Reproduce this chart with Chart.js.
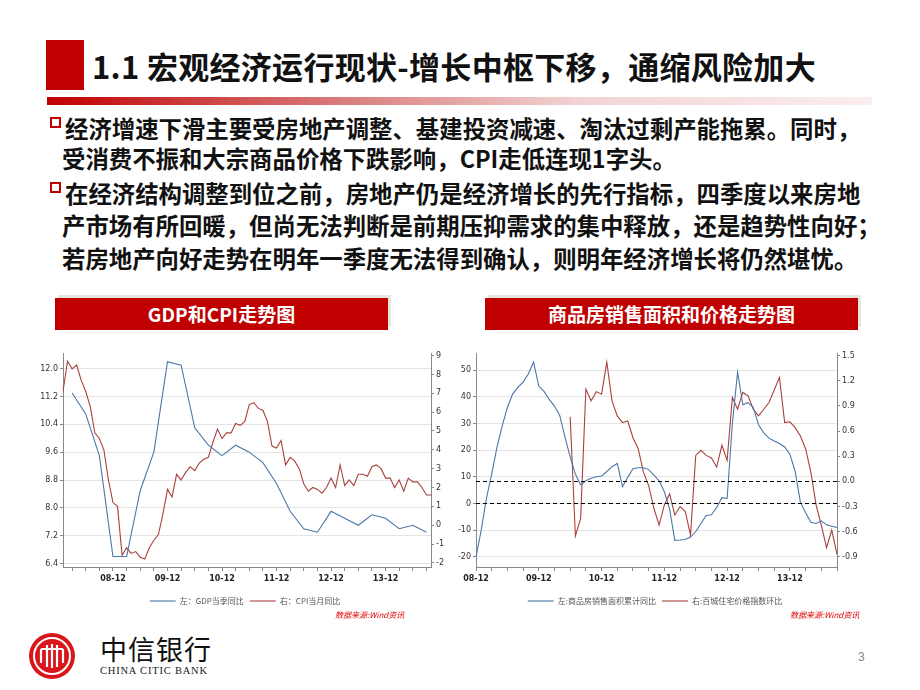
<!DOCTYPE html>
<html>
<head>
<meta charset="utf-8">
<script src="https://cdn.jsdelivr.net/npm/chart.js@4.4.0/dist/chart.umd.min.js"></script>
<style>
body{margin:0;width:920px;height:690px;background:#fff;position:relative;overflow:hidden;font-family:"Noto Sans CJK SC",sans-serif;}
.abs{position:absolute;white-space:nowrap;}
.redblock{left:46px;top:40px;width:38px;height:50px;background:#c00000;}
.title{left:92px;top:45px;font-size:31px;font-weight:bold;color:#111;line-height:42px;letter-spacing:0.3px;}
.bar{left:47px;top:97px;width:825px;height:8px;background:linear-gradient(to right,#c00000 0%,#d97a7a 35%,#f2d4d4 65%,#fbeeee 100%);}
.txt{font-size:23.4px;font-weight:bold;color:#111;line-height:28px;}
.sq{width:7px;height:7px;border:2.5px solid #c00000;background:#fff;}
.box{height:32px;background:#c00000;color:#fff;font-size:19px;font-weight:bold;text-align:center;line-height:32px;box-shadow:3px -3px 0 #e9e6e0;}
.src{font-size:8px;color:#e00000;font-style:italic;}
</style>
</head>
<body>
<div class="abs redblock"></div>
<div class="abs title">1.1 宏观经济运行现状-增长中枢下移，通缩风险加大</div>
<div class="abs bar"></div>

<div class="abs sq" style="left:50px;top:117px;"></div>
<div class="abs txt" style="left:65px;top:114px;">经济增速下滑主要受房地产调整、基建投资减速、淘汰过剩产能拖累。同时，</div>
<div class="abs txt" style="left:62px;top:144px;">受消费不振和大宗商品价格下跌影响，CPI走低连现1字头。</div>
<div class="abs sq" style="left:50px;top:182px;"></div>
<div class="abs txt" style="left:65px;top:179px;">在经济结构调整到位之前，房地产仍是经济增长的先行指标，四季度以来房地</div>
<div class="abs txt" style="left:62px;top:211px;">产市场有所回暖，但尚无法判断是前期压抑需求的集中释放，还是趋势性向好；</div>
<div class="abs txt" style="left:62px;top:244px;">若房地产向好走势在明年一季度无法得到确认，则明年经济增长将仍然堪忧。</div>

<div class="abs box" style="left:55px;top:298px;width:333px;">GDP和CPI走势图</div>
<div class="abs box" style="left:485px;top:298px;width:373px;">商品房销售面积和价格走势图</div>

<canvas id="c1" class="abs" style="left:40px;top:345px;" width="410" height="270"></canvas>
<canvas id="c2" class="abs" style="left:445px;top:345px;" width="420" height="270"></canvas>
<div class="abs src" style="left:335px;top:609px;">数据来源:Wind资讯</div>
<div class="abs src" style="left:790px;top:609px;">数据来源:Wind资讯</div>

<svg class="abs" style="left:28px;top:632px;" width="48" height="48" viewBox="0 0 48 48">
  <circle cx="24" cy="24" r="23" fill="#d9161c"/>
  <circle cx="24" cy="24" r="18" fill="none" stroke="#fff" stroke-width="2"/>
  <path d="M13 17 v14 M19 13 v22 M24 12 v24 M29 13 v22 M35 17 v14" stroke="#fff" stroke-width="2.2" fill="none"/>
  <path d="M13 17 h10 M25 17 h10" stroke="#fff" stroke-width="2"/>
</svg>
<div class="abs" style="left:100px;top:634px;font-size:27px;color:#111;line-height:30px;letter-spacing:1px;">中信银行</div>
<div class="abs" style="left:100px;top:665px;font-size:10.5px;color:#222;font-family:'Liberation Serif',serif;letter-spacing:0.8px;">CHINA CITIC BANK</div>
<div class="abs" style="left:858px;top:650px;font-size:12px;color:#888;font-family:'Liberation Sans',sans-serif;">3</div>

<script>
// chart 1: monthly 2008-01 .. 2014-10
let monthLabels1 = [];
for (let y = 8; y <= 14; y++) {
  for (let m = 1; m <= 12; m++) {
    if (y === 14 && m > 10) break;
    monthLabels1.push(String(y).padStart(2, '0') + '-' + String(m).padStart(2, '0'));
  }
}
// GDP quarterly (Mar 2008 .. Sep 2014)
const gdpQuarterly = [11.3, 10.7, 9.5, 6.6, 6.6, 8.5, 9.6, 12.2, 12.1, 10.3, 9.8, 9.5,
  9.8, 9.6, 9.3, 8.7, 7.9, 7.4, 7.3, 7.9, 7.7, 7.5, 7.8, 7.7, 7.4, 7.5, 7.3];
const cpiMonthly = [
  7.1, 8.7, 8.3, 8.5, 7.7, 7.1, 6.3, 4.9, 4.6, 4.0, 2.4, 1.2,
  1.0, -1.6, -1.2, -1.5, -1.4, -1.7, -1.8, -1.2, -0.8, -0.5, 0.6, 1.9,
  1.5, 2.7, 2.4, 2.8, 3.1, 2.9, 3.3, 3.5, 3.6, 4.4, 5.1, 4.6,
  4.9, 4.9, 5.4, 5.3, 5.5, 6.4, 6.5, 6.2, 6.1, 5.5, 4.2, 4.1,
  4.5, 3.2, 3.6, 3.4, 3.0, 2.2, 1.8, 2.0, 1.9, 1.7, 2.0, 2.5,
  2.0, 3.2, 2.1, 2.4, 2.1, 2.7, 2.7, 2.6, 3.1, 3.2, 3.0, 2.5,
  2.5, 2.0, 2.4, 1.8, 2.5, 2.3, 2.3, 2.0, 1.6, 1.6];
const gdpTicks = [6.4, 7.2, 8.0, 8.8, 9.6, 10.4, 11.2, 12.0];
const cpiTicks = [-2, -1, 0, 1, 2, 3, 4, 5, 6, 7, 8, 9];

// chart 2: monthly 2008-12 .. 2014-09
let monthLabels2 = monthLabels1.slice(11, 81);
const salesArea = [
  -20, -10, 2, 11, 21, 29, 36, 41, 43.5, 45.5, 48.5, 53,
  44, 42, 39, 36.5, 33, 25, 17.5, 11, 7, 8.5, 9.5, 10,
  10.3, 12, 13.8, 15, 6.3, 9.8, 13, 13.4, 13.4, 12.7, 10.6, 8.5,
  4.4, -2, -13.8, -13.7, -13.5, -12.6, -10.5, -7.5, -4.5, -4.2, -1.5, 2.2,
  1.9, 30, 49.3, 37, 37.8, 36, 29.5, 26.5, 24.5, 23.4, 22.5, 21.2,
  18.5, 12, 0.5, -3.5, -7, -7.5, -6.5, -8, -8.5, -9];
const priceIndex = [
  null, null, null, null, null, null, null, null, null, null, null, null,
  null, null, null, null, null, null, 0.77, -0.65, -0.44, 1.1, 0.96, 1.07,
  1.04, 1.42, 0.96, 0.78, 0.7, 0.72, 0.52, 0.39, 0.11, -0.05, -0.32, -0.52,
  -0.28, -0.15, -0.4, -0.3, -0.36, -0.64, 0.31, 0.37, 0.31, 0.28, 0.17, 0.43,
  0.25, 1.0, 0.86, 1.06, 1.02, 0.86, 0.78, 0.86, 0.94, 1.09, 1.24, 0.7,
  0.71, 0.64, 0.54, 0.39, 0.11, -0.28, -0.52, -0.79, -0.58, -0.87];
const salesTicks = [-20, -10, 0, 10, 20, 30, 40, 50];
const priceTicks = [-0.9, -0.6, -0.3, 0, 0.3, 0.6, 0.9, 1.2, 1.5];

const blue = '#4a77a8';
const red = '#a8413d';
const tickFont = { family: 'DejaVu Sans', size: 8 };

function xAxis(labels, qOffset) {
  return {
    type: 'category',
    offset: false,
    border: { color: '#888' },
    grid: {
      drawOnChartArea: false, tickLength: 4,
      tickColor: ctx => (ctx.index % 3 === qOffset ? '#888' : 'rgba(0,0,0,0)')
    },
    ticks: {
      autoSkip: false, maxRotation: 0, minRotation: 0, padding: 3,
      color: '#222', font: { family: 'DejaVu Sans', size: 8, weight: 'bold' },
      callback: (v, i) => (labels[i].endsWith('-12') ? labels[i] : '')
    },
    afterFit: s => { s.height = 24; }
  };
}

function yAxis(pos, min, max, tickList, width, grid, dec) {
  return {
    position: pos, min: min, max: max,
    border: { color: '#888' },
    grid: { drawOnChartArea: grid, color: '#e4e4e4', tickColor: '#888', tickLength: 3 },
    ticks: { color: '#333', font: tickFont, padding: 2, callback: v => v.toFixed(dec) },
    afterBuildTicks: s => { s.ticks = tickList.map(v => ({ value: v })); },
    afterFit: s => { s.width = width; }
  };
}

const legendOpts = {
  position: 'bottom',
  labels: {
    usePointStyle: true, pointStyle: 'line', pointStyleWidth: 26,
    color: '#555', font: { family: 'Noto Sans CJK SC', size: 8 }, padding: 6, boxHeight: 6
  }
};

// zero lines (dashed) for chart 2
const zeroLines = {
  id: 'zeroLines',
  afterDatasetsDraw(chart) {
    const { ctx, chartArea, scales } = chart;
    ctx.save();
    ctx.setLineDash([4, 3]);
    ctx.strokeStyle = '#000';
    ctx.lineWidth = 1.2;
    ['yL', 'yR'].forEach(k => {
      const y = Math.round(scales[k].getPixelForValue(0)) + 0.5;
      ctx.beginPath();
      ctx.moveTo(chartArea.left, y);
      ctx.lineTo(chartArea.right, y);
      ctx.stroke();
    });
    ctx.restore();
  }
};

Chart.defaults.animation = false;
Chart.defaults.devicePixelRatio = 1;

new Chart(document.getElementById('c1'), {
  type: 'line',
  data: {
    labels: monthLabels1,
    datasets: [
      {
        label: '左：GDP当季同比',
        data: monthLabels1.map((_, i) => (i % 3 === 2 ? gdpQuarterly[(i - 2) / 3] : null)),
        yAxisID: 'yL', borderColor: blue, backgroundColor: blue, borderWidth: 1.1,
        pointRadius: 0, spanGaps: true, tension: 0
      },
      {
        label: '右：CPI当月同比',
        data: cpiMonthly,
        yAxisID: 'yR', borderColor: red, backgroundColor: red, borderWidth: 1.1,
        pointRadius: 0, tension: 0
      }
    ]
  },
  options: {
    responsive: false,
    layout: { padding: { top: 8, left: 0, right: 0, bottom: 0 } },
    plugins: { legend: legendOpts, tooltip: { enabled: false } },
    scales: {
      x: xAxis(monthLabels1, 2),
      yL: yAxis('left', 6.3, 12.45, gdpTicks, 23, true, 1),
      yR: yAxis('right', -2.22, 9.14, cpiTicks, 19, false, 0)
    }
  }
});

new Chart(document.getElementById('c2'), {
  type: 'line',
  data: {
    labels: monthLabels2,
    datasets: [
      {
        label: '左:商品房销售面积累计同比',
        data: salesArea,
        yAxisID: 'yL', borderColor: blue, backgroundColor: blue, borderWidth: 1.1,
        pointRadius: 0, tension: 0
      },
      {
        label: '右:百城住宅价格指数环比',
        data: priceIndex,
        yAxisID: 'yR', borderColor: red, backgroundColor: red, borderWidth: 1.1,
        pointRadius: 0, tension: 0
      }
    ]
  },
  options: {
    responsive: false,
    layout: { padding: { top: 8, left: 0, right: 0, bottom: 0 } },
    plugins: { legend: legendOpts, tooltip: { enabled: false } },
    scales: {
      x: xAxis(monthLabels2, 0),
      yL: yAxis('left', -23.8, 56.4, salesTicks, 31, true, 0),
      yR: yAxis('right', -1.02, 1.53, priceTicks, 28, false, 1)
    }
  },
  plugins: [zeroLines]
});
</script>
</body>
</html>
